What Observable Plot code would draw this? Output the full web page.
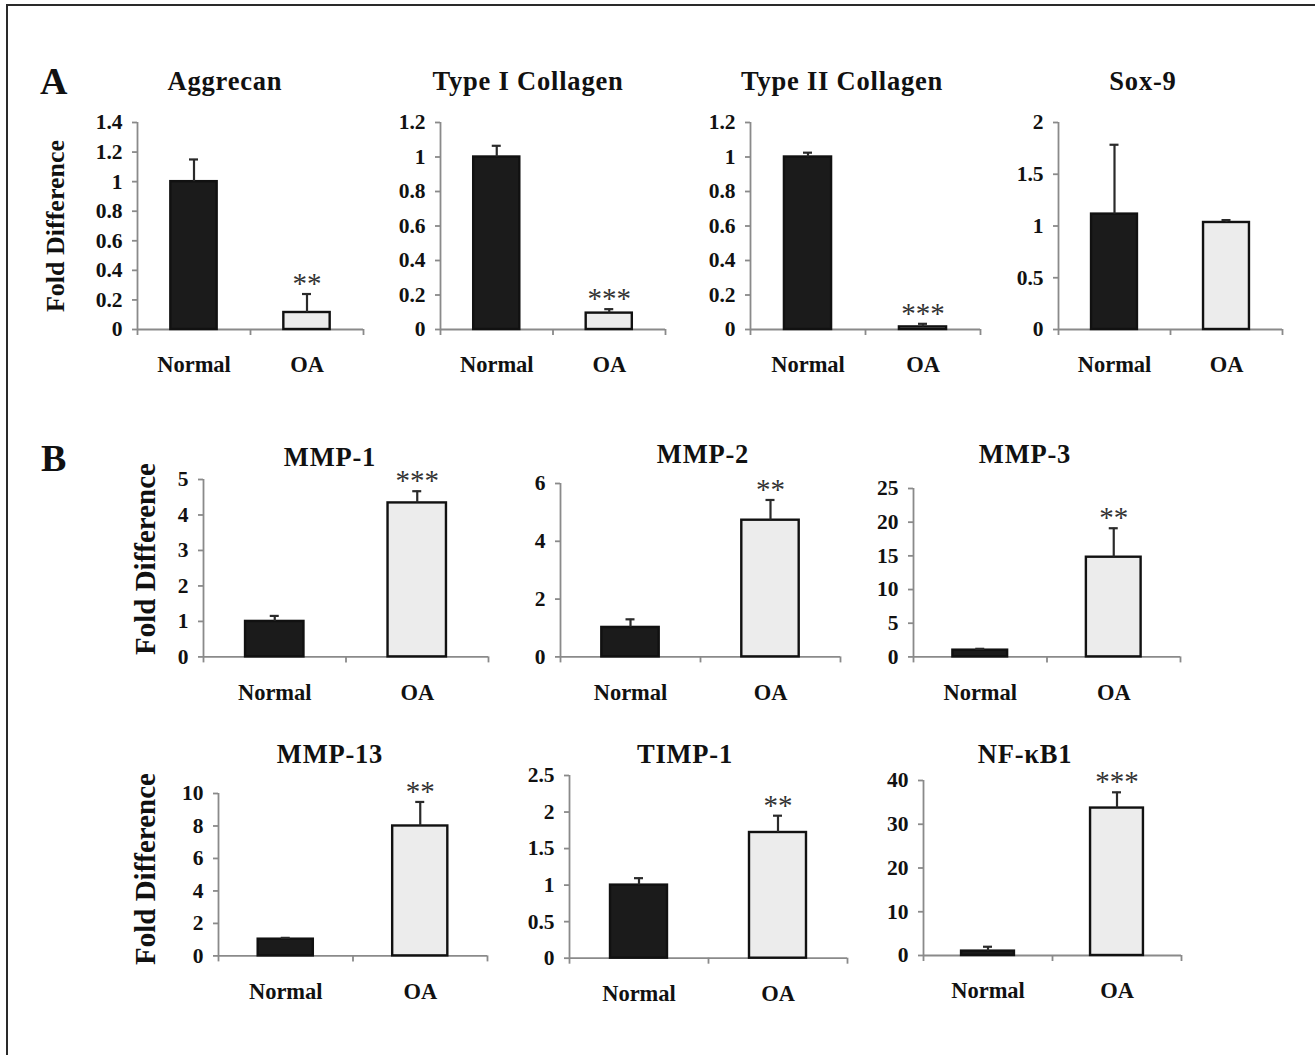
<!DOCTYPE html>
<html>
<head>
<meta charset="utf-8">
<script src="https://cdn.jsdelivr.net/npm/d3@7"></script>
<script src="https://cdn.jsdelivr.net/npm/@observablehq/plot@0.6"></script>
<style>
  body { margin: 0; background: #fff; }
  #root { position: relative; width: 1315px; height: 1055px; overflow: hidden; background: #fff; }
  #frame { position: absolute; left: 6px; top: 4px; width: 1400px; height: 1200px;
           border-left: 2px solid #2a2a2a; border-top: 2px solid #2a2a2a; }
  .panel { position: absolute; }
  #overlay { position: absolute; left: 0; top: 0; pointer-events: none; }
</style>
</head>
<body>
<div id="root"><div id="frame"></div></div>
<script>
// ---------------- data ----------------
const groups = ["Normal", "OA"];
const genes = ["Aggrecan", "Type I Collagen", "Type II Collagen", "Sox-9",
               "MMP-1", "MMP-2", "MMP-3", "MMP-13", "TIMP-1", "NF-κB1"];
const normalMean = [1.0, 1.0, 1.0, 1.115, 1.0, 1.02, 1.0, 1.03, 1.0, 1.0];
const normalErr  = [0.15, 0.065, 0.025, 0.67, 0.155, 0.28, 0.2, 0.08, 0.095, 1.0];
const oaMean     = [0.115, 0.095, 0.015, 1.034, 4.34, 4.73, 14.8, 8.0, 1.72, 33.7];
const oaErr      = [0.125, 0.023, 0.018, 0.023, 0.33, 0.7, 4.3, 1.48, 0.23, 3.6];
const significance = ["**", "***", "***", "", "***", "**", "**", "**", "**", "***"];
const yTicks = [
  [0, 0.2, 0.4, 0.6, 0.8, 1, 1.2, 1.4],
  [0, 0.2, 0.4, 0.6, 0.8, 1, 1.2],
  [0, 0.2, 0.4, 0.6, 0.8, 1, 1.2],
  [0, 0.5, 1, 1.5, 2],
  [0, 1, 2, 3, 4, 5],
  [0, 2, 4, 6],
  [0, 5, 10, 15, 20, 25],
  [0, 2, 4, 6, 8, 10],
  [0, 0.5, 1, 1.5, 2, 2.5],
  [0, 10, 20, 30, 40]
];
const yLabel = "Fold Difference";
const panelLetters = ["A", "B"];

// ---------------- layout (pixel positions of each plot frame) ----------------
const layout = [
  {x0: 137, x1: 363, yTop: 121.7, y0: 328.7, tx: 225, ty: 90},
  {x0: 440, x1: 665, yTop: 121.7, y0: 328.7, tx: 528, ty: 90},
  {x0: 750, x1: 980, yTop: 121.7, y0: 328.7, tx: 842, ty: 90},
  {x0: 1058, x1: 1282, yTop: 121.7, y0: 328.7, tx: 1143, ty: 90},
  {x0: 203, x1: 488, yTop: 479.3, y0: 656.7, tx: 330, ty: 466},
  {x0: 560, x1: 840, yTop: 483.3, y0: 656.7, tx: 703, ty: 463},
  {x0: 913, x1: 1180, yTop: 488.3, y0: 656.7, tx: 1025, ty: 463},
  {x0: 218, x1: 487, yTop: 793.3, y0: 955.7, tx: 330, ty: 763},
  {x0: 569, x1: 847, yTop: 775, y0: 957.7, tx: 685, ty: 763},
  {x0: 923, x1: 1181, yTop: 780, y0: 955, tx: 1025, ty: 763}
];

const FONT = "'Liberation Serif', 'Times New Roman', Times, serif";
const AXIS = "#8a8a8a";
const root = document.getElementById("root");

genes.forEach((gene, i) => {
  const L = layout[i];
  const ml = 80, mr = 12, mt = 30, mb = 64;
  const innerW = L.x1 - L.x0;
  const innerH = L.y0 - L.yTop;
  const width = ml + innerW + mr;
  const height = mt + innerH + mb;
  const step = innerW / groups.length;
  const pad = 0.59;
  const bw = step * (1 - pad);
  const capInset = (bw - 9) / 2;
  const yMax = d3.max(yTicks[i]);
  const rows = groups.map((g, j) => ({
    group: g,
    mean: j === 0 ? normalMean[i] : oaMean[i],
    err: j === 0 ? normalErr[i] : oaErr[i],
    sig: j === 0 ? "" : significance[i]
  }));

  const chart = Plot.plot({
    width, height,
    marginLeft: ml, marginRight: mr, marginTop: mt, marginBottom: mb,
    style: {fontFamily: FONT, fontWeight: "bold", color: "#111", background: "transparent", overflow: "visible"},
    x: {domain: groups, paddingInner: pad, paddingOuter: pad / 2, round: false},
    y: {domain: [0, yMax]},
    color: {domain: groups, range: ["#1b1b1b", "#ececec"]},
    marks: [
      // x axis line
      Plot.ruleY([0], {stroke: AXIS, strokeWidth: 1.8}),
      // y axis line at left boundary
      Plot.ruleX(["Normal"], {y1: 0, y2: yMax, dx: -step / 2, stroke: AXIS, strokeWidth: 1.8}),
      // category boundary tick marks (Excel style)
      Plot.ruleX(groups, {y1: 0, y2: 0, dx: -step / 2, insetBottom: -6, stroke: AXIS, strokeWidth: 1.8}),
      Plot.ruleX(["OA"], {y1: 0, y2: 0, dx: step / 2, insetBottom: -6, stroke: AXIS, strokeWidth: 1.8}),
      Plot.axisY({ticks: yTicks[i], tickSize: 5, tickPadding: 10, tickFormat: d3.format("~g"),
                  stroke: AXIS, strokeWidth: 1.8, fontSize: 21.5, fill: "#111", label: null}),
      Plot.axisX({tickSize: 0, tickPadding: 27, fontSize: 22.5, fill: "#111", label: null}),
      Plot.barY(rows, {x: "group", y: "mean", fill: "group", stroke: "#111", strokeWidth: 2.4}),
      Plot.ruleX(rows, {x: "group", y1: "mean", y2: d => d.mean + d.err, stroke: "#2a2a2a", strokeWidth: 2.2}),
      Plot.tickY(rows, {x: "group", y: d => d.mean + d.err, stroke: "#2a2a2a", strokeWidth: 2.2,
                        insetLeft: capInset, insetRight: capInset}),
      Plot.text(rows.filter(d => d.sig), {x: "group", y: d => d.mean + d.err, text: "sig",
                        lineAnchor: "bottom", dy: -1, fontSize: 29, fontWeight: "normal", fill: "#333"})
    ]
  });
  chart.classList.add("panel");
  chart.style.left = (L.x0 - ml) + "px";
  chart.style.top = (L.yTop - mt) + "px";
  root.appendChild(chart);
});

// ---------------- overlay text: panel letters, titles, y labels ----------------
const overlay = d3.select(root).append("svg")
  .attr("id", "overlay").attr("width", 1315).attr("height", 1055)
  .style("font-family", FONT).style("font-weight", "bold").style("fill", "#111");

overlay.append("text").attr("x", 40).attr("y", 94).attr("font-size", 38).text(panelLetters[0]);
overlay.append("text").attr("x", 41).attr("y", 471).attr("font-size", 38).text(panelLetters[1]);

genes.forEach((gene, i) => {
  const L = layout[i];
  overlay.append("text").attr("x", L.tx).attr("y", L.ty)
    .attr("text-anchor", "middle").attr("font-size", 26.5)
    .attr("letter-spacing", "0.8px").text(gene);
});

const yLabelPos = [
  {x: 55, y: 226, size: 26},
  {x: 145, y: 559, size: 29},
  {x: 145, y: 869, size: 29}
];
yLabelPos.forEach(p => {
  overlay.append("text")
    .attr("transform", `translate(${p.x},${p.y}) rotate(-90)`)
    .attr("text-anchor", "middle").attr("dy", "0.35em")
    .attr("font-size", p.size).text(yLabel);
});
</script>
</body>
</html>
